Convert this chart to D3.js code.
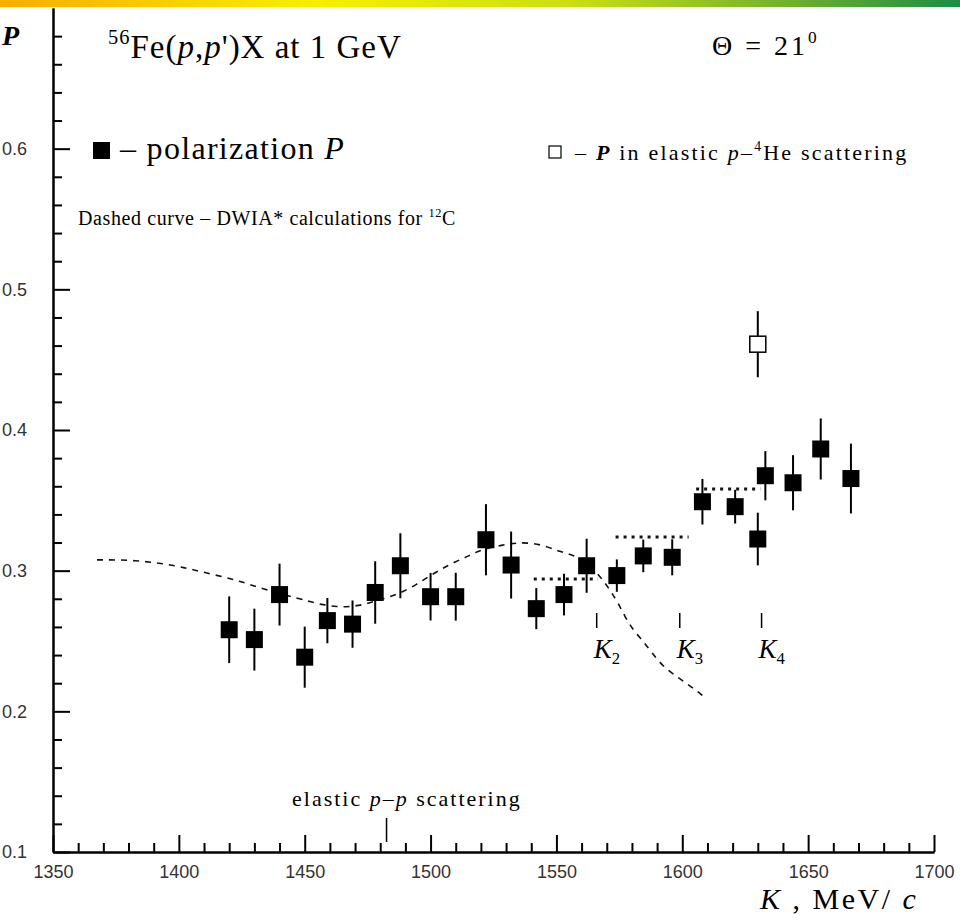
<!DOCTYPE html>
<html>
<head>
<meta charset="utf-8">
<script src="https://cdn.jsdelivr.net/npm/d3@7"></script>
<style>
  body { margin: 0; background: #fff; }
  text { white-space: pre; }
</style>
</head>
<body>
<div id="chart"></div>
<script>
// размеры
const width = 960;
const height = 920;
const serif = "'Liberation Serif', 'Times New Roman', serif";
const sans = "'Liberation Sans', Arial, sans-serif";

// данные: поляризация P (чёрные квадраты)
const energy = [1420, 1430, 1440, 1450, 1459, 1469, 1478, 1488, 1500, 1510, 1522, 1532, 1542,
  1553, 1562, 1574, 1584.5, 1596, 1608, 1621, 1630, 1633, 1644, 1655, 1667];
const polar = [0.258, 0.251, 0.283, 0.2385, 0.2645, 0.262, 0.2845, 0.3035, 0.2815, 0.2815, 0.322,
  0.304, 0.273, 0.283, 0.3035, 0.2965, 0.3105, 0.3095, 0.349, 0.3455, 0.3225, 0.3675, 0.3625, 0.3865, 0.3655];
const polarErr = [0.0237, 0.022, 0.022, 0.0217, 0.0161, 0.0168, 0.0222, 0.0231, 0.0169, 0.017, 0.0253,
  0.0238, 0.0146, 0.0148, 0.0192, 0.0115, 0.0116, 0.0128, 0.0162, 0.012, 0.0187, 0.0175, 0.0196, 0.0217, 0.0248];

// упругое p-4He (пустой квадрат)
const heEnergy = [1630];
const heP = [0.461];
const heErr = [0.0235];

// штриховая кривая DWIA для 12C
const curveK = [1367.5, 1380.6, 1394.5, 1402.4, 1409.6, 1419.1, 1425.1, 1431, 1440.2, 1447, 1452, 1457.3,
  1462.8, 1468, 1473.2, 1478.3, 1483.9, 1489, 1494.2, 1499.4, 1504.5, 1509.7, 1515.3, 1519.6, 1528.8,
  1534, 1539.5, 1545.9, 1551.4, 1556.6, 1561.4, 1566.1, 1569.3, 1571.7, 1574.5, 1577.3, 1580.4, 1584.4,
  1588, 1592.4, 1599.1, 1604.3, 1608.2];
const curveP = [0.3077, 0.3077, 0.305, 0.302, 0.299, 0.2949, 0.292, 0.2885, 0.2835, 0.2805, 0.278, 0.2757,
  0.2743, 0.2743, 0.2757, 0.2785, 0.2814, 0.285, 0.2899, 0.296, 0.3013, 0.3063, 0.3105, 0.3148, 0.3183,
  0.3198, 0.3198, 0.3176, 0.3134, 0.3112, 0.307, 0.2984, 0.2913, 0.2849, 0.2771, 0.2671, 0.2579, 0.25,
  0.2415, 0.2316, 0.223, 0.2166, 0.211];

// пунктирные ступеньки
const stepFrom = [1541, 1573.5, 1605.5];
const stepTo = [1566.5, 1602.5, 1631];
const stepP = [0.294, 0.324, 0.358];

// отметки K2, K3, K4 и упругое p-p
const markK = [1566, 1599, 1631.5];
const markIdx = ["2", "3", "4"];
const ppK = 1482.5;

// деления осей
const xMajor = d3.range(1350, 1701, 50);
const xMinor = d3.range(1360, 1700, 10).filter(d => d % 50 !== 0);
const yMajor = [0.1, 0.2, 0.3, 0.4, 0.5, 0.6];
const yMinor = d3.range(12, 70, 2).filter(d => d % 10 !== 0).map(d => d / 100);

const svg = d3.select("#chart")
  .append("svg")
  .attr("width", width)
  .attr("height", height);

// цветная полоска сверху
const grad = svg.append("defs").append("linearGradient").attr("id", "topbar");
[[0, "#f6ad00"], [0.33, "#f6f000"], [0.6, "#c9de12"], [0.8, "#7ab52c"], [1, "#1c8c46"]]
  .forEach(s => grad.append("stop").attr("offset", s[0]).attr("stop-color", s[1]));
svg.append("rect").attr("width", width).attr("height", 7).attr("fill", "url(#topbar)");

const x = d3.scaleLinear().domain([1350, 1700]).range([53, 934]);
const y = d3.scaleLinear().domain([0.1, 0.7]).range([852, 8]);

// оси
function styleAxis(g) {
  g.selectAll("path, line").attr("stroke", "#000").attr("stroke-width", 2);
  g.selectAll("text").attr("font-family", sans).attr("font-size", 18).attr("fill", "#333");
}

svg.append("g")
  .attr("transform", "translate(0,852)")
  .call(d3.axisBottom(x).tickValues(xMinor).tickSize(-9).tickSizeOuter(0).tickFormat(""))
  .call(styleAxis);
svg.append("g")
  .attr("transform", "translate(0,852)")
  .call(d3.axisBottom(x).tickValues(xMajor).tickSize(-17).tickSizeOuter(0).tickPadding(13).tickFormat(d3.format("d")))
  .call(styleAxis);

svg.append("g")
  .attr("transform", "translate(53,0)")
  .call(d3.axisLeft(y).tickValues(yMinor).tickSize(-9).tickSizeOuter(0).tickFormat(""))
  .call(styleAxis);
svg.append("g")
  .attr("transform", "translate(53,0)")
  .call(d3.axisLeft(y).tickValues(yMajor).tickSize(-17).tickSizeOuter(0).tickPadding(26).tickFormat(d3.format(".1f")))
  .call(styleAxis);

// штриховая кривая
const line = d3.line()
  .x((d, i) => x(curveK[i]))
  .y(d => y(d))
  .curve(d3.curveBasis);
svg.append("path")
  .attr("d", line(curveP))
  .attr("fill", "none")
  .attr("stroke", "#111")
  .attr("stroke-width", 1.6)
  .attr("stroke-dasharray", "6,6");

// ступеньки
svg.selectAll(".step")
  .data(stepP)
  .enter()
  .append("line")
  .attr("x1", (d, i) => x(stepFrom[i]))
  .attr("x2", (d, i) => x(stepTo[i]))
  .attr("y1", d => y(d))
  .attr("y2", d => y(d))
  .attr("stroke", "#111")
  .attr("stroke-width", 3)
  .attr("stroke-dasharray", "3,5");

// точки с ошибками
svg.selectAll(".err")
  .data(polar)
  .enter()
  .append("line")
  .attr("x1", (d, i) => x(energy[i]))
  .attr("x2", (d, i) => x(energy[i]))
  .attr("y1", (d, i) => y(d - polarErr[i]))
  .attr("y2", (d, i) => y(d + polarErr[i]))
  .attr("stroke", "#000")
  .attr("stroke-width", 2);

svg.selectAll(".pt")
  .data(polar)
  .enter()
  .append("rect")
  .attr("x", (d, i) => x(energy[i]) - 8.5)
  .attr("y", d => y(d) - 8.5)
  .attr("width", 17)
  .attr("height", 17)
  .attr("fill", "#000");

// пустой квадрат p-4He
heP.forEach((p, i) => {
  svg.append("line")
    .attr("x1", x(heEnergy[i])).attr("x2", x(heEnergy[i]))
    .attr("y1", y(p - heErr[i])).attr("y2", y(p + heErr[i]))
    .attr("stroke", "#000").attr("stroke-width", 2);
  svg.append("rect")
    .attr("x", x(heEnergy[i]) - 8).attr("y", y(p) - 8)
    .attr("width", 16).attr("height", 16)
    .attr("fill", "#fff").attr("stroke", "#000").attr("stroke-width", 1.5);
});

// текст с индексами
function richText(tx, ty, size, parts, spacing) {
  const t = svg.append("text")
    .attr("x", tx).attr("y", ty)
    .attr("font-family", serif)
    .attr("font-size", size)
    .attr("letter-spacing", spacing || 0)
    .attr("fill", "#000");
  let shift = 0;
  parts.forEach(p => {
    const target = p.sup ? -size * 0.42 : p.sub ? size * 0.22 : 0;
    const s = t.append("tspan").text(p.t).attr("dy", target - shift);
    shift = target;
    if (p.sup || p.sub) s.attr("font-size", size * 0.62);
    if (p.i) s.attr("font-style", "italic");
    if (p.b) s.attr("font-weight", "bold");
  });
  return t;
}

// отметки K2..K4
markK.forEach((k, i) => {
  svg.append("line")
    .attr("x1", x(k)).attr("x2", x(k))
    .attr("y1", 613).attr("y2", 628)
    .attr("stroke", "#000").attr("stroke-width", 1.5);
  richText(x(k) - 3, 658, 27, [{ t: "K", i: true }, { t: markIdx[i], sub: true }]);
});

// отметка упругого p-p
svg.append("line")
  .attr("x1", x(ppK)).attr("x2", x(ppK))
  .attr("y1", 818).attr("y2", 842)
  .attr("stroke", "#000").attr("stroke-width", 1.5);

richText(2, 45, 28, [{ t: "P", i: true, b: true }]);
richText(108, 58, 33, [{ t: "56", sup: true }, { t: "Fe(" }, { t: "p", i: true }, { t: "," },
  { t: "p", i: true }, { t: "')X at 1 GeV" }], 1);
richText(712, 55, 28, [{ t: "Θ = 21" }, { t: "0", sup: true }], 3);

svg.append("rect").attr("x", 93).attr("y", 142).attr("width", 17).attr("height", 17).attr("fill", "#000");
richText(120, 159, 32, [{ t: "– polarization " }, { t: "P", i: true }], 1.3);

svg.append("rect").attr("x", 549).attr("y", 146).attr("width", 12).attr("height", 12)
  .attr("fill", "#fff").attr("stroke", "#000").attr("stroke-width", 1.2);
richText(575, 160, 22, [{ t: "– " }, { t: "P", i: true, b: true }, { t: " in elastic " }, { t: "p", i: true },
  { t: "–" }, { t: "4", sup: true }, { t: "He scattering" }], 2.2);

richText(78, 225, 20, [{ t: "Dashed curve – DWIA* calculations for " }, { t: "12", sup: true }, { t: "C" }], 0.6);
richText(292, 806, 22, [{ t: "elastic " }, { t: "p", i: true }, { t: "–" }, { t: "p", i: true }, { t: " scattering" }], 2);

richText(760, 909, 30, [{ t: "K", i: true }, { t: " , MeV/ " }, { t: "c", i: true }], 2.5);
</script>
</body>
</html>
